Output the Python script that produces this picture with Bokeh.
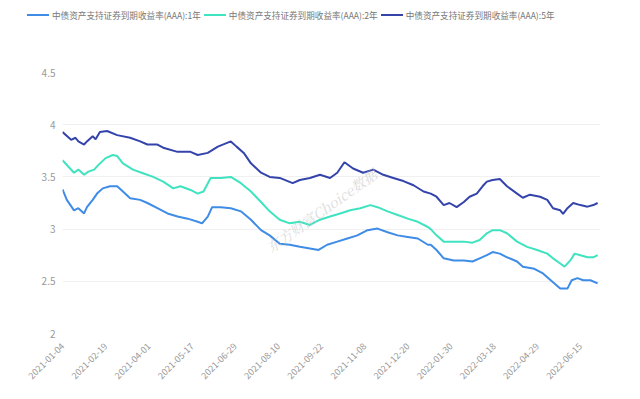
from math import pi
from bokeh.plotting import figure
from bokeh.layouts import column
from bokeh.models import Range1d, Label, FixedTicker, Div
from bokeh.embed import file_html
from bokeh.resources import INLINE

# ---- data (trading-day index, yield %) ----
tick_idx = [0, 30, 60, 90, 120, 150, 180, 210, 240, 270, 300, 330, 360]
tick_labels = ["2021-01-04", "2021-02-19", "2021-04-01", "2021-05-17", "2021-06-29",
               "2021-08-10", "2021-09-22", "2021-11-08", "2021-12-20", "2022-01-30",
               "2022-03-18", "2022-04-29", "2022-06-15"]

names = ["中债资产支持证券到期收益率(AAA):1年",
         "中债资产支持证券到期收益率(AAA):2年",
         "中债资产支持证券到期收益率(AAA):5年"]

x_1y = [0, 3, 8, 11, 15, 17, 21, 24, 28, 33, 38, 42, 47, 54, 59, 66, 73, 80, 87, 94, 97,
        101, 104, 110, 117, 124, 131, 138, 144, 151, 158, 165, 172, 178, 184, 191, 198,
        205, 212, 219, 226, 233, 240, 247, 254, 256, 260, 265, 272, 279, 285, 290, 295,
        299, 304, 309, 316, 320, 328, 334, 341, 346, 351, 354, 358, 362, 367, 372]
y_1y = [3.38, 3.28, 3.18, 3.20, 3.15, 3.21, 3.28, 3.34, 3.39, 3.41, 3.41, 3.36, 3.295,
        3.28, 3.25, 3.20, 3.15, 3.12, 3.10, 3.07, 3.055, 3.12, 3.21, 3.21, 3.20, 3.17,
        3.09, 2.99, 2.94, 2.86, 2.85, 2.83, 2.815, 2.80, 2.85, 2.88, 2.91, 2.94, 2.99,
        3.005, 2.97, 2.94, 2.925, 2.91, 2.85, 2.85, 2.80, 2.72, 2.70, 2.70, 2.69, 2.72,
        2.75, 2.78, 2.765, 2.73, 2.69, 2.64, 2.62, 2.575, 2.49, 2.43, 2.43, 2.51, 2.53,
        2.51, 2.51, 2.48]

x_2y = [0, 4, 8, 11, 15, 18, 22, 25, 30, 35, 38, 42, 49, 56, 63, 70, 77, 82, 89, 94, 98,
        103, 110, 117, 124, 131, 138, 144, 151, 158, 165, 172, 179, 186, 193, 200, 207,
        214, 219, 226, 233, 240, 247, 254, 256, 260, 265, 272, 279, 285, 290, 295, 299,
        304, 309, 316, 323, 330, 337, 341, 346, 349, 353, 356, 360, 365, 369, 372]
y_2y = [3.66, 3.60, 3.54, 3.57, 3.52, 3.55, 3.57, 3.615, 3.68, 3.71, 3.70, 3.63, 3.57,
        3.535, 3.50, 3.455, 3.39, 3.41, 3.375, 3.34, 3.36, 3.49, 3.49, 3.50, 3.44, 3.36,
        3.26, 3.17, 3.09, 3.055, 3.07, 3.04, 3.09, 3.12, 3.15, 3.18, 3.20, 3.23, 3.21,
        3.17, 3.135, 3.10, 3.07, 3.02, 3.00, 2.94, 2.88, 2.88, 2.88, 2.87, 2.895, 2.96,
        2.99, 2.99, 2.96, 2.88, 2.83, 2.80, 2.765, 2.72, 2.67, 2.64, 2.70, 2.765, 2.75,
        2.73, 2.73, 2.75]

x_5y = [0, 6, 9, 11, 15, 17, 21, 23, 26, 31, 38, 47, 54, 59, 66, 70, 80, 89, 94, 101,
        108, 117, 121, 126, 131, 138, 144, 151, 160, 165, 172, 179, 186, 191, 196, 202,
        209, 216, 223, 230, 237, 244, 251, 256, 260, 265, 269, 274, 279, 283, 288, 292,
        295, 299, 304, 309, 316, 320, 325, 332, 337, 341, 346, 348, 351, 355, 360, 365,
        369, 372]
y_5y = [3.93, 3.855, 3.875, 3.84, 3.81, 3.84, 3.89, 3.86, 3.93, 3.94, 3.90, 3.875, 3.84,
        3.81, 3.81, 3.78, 3.74, 3.74, 3.71, 3.73, 3.79, 3.84, 3.79, 3.73, 3.63, 3.54,
        3.50, 3.49, 3.44, 3.47, 3.49, 3.52, 3.49, 3.54, 3.64, 3.58, 3.54, 3.57, 3.52,
        3.49, 3.46, 3.42, 3.36, 3.34, 3.31, 3.23, 3.25, 3.21, 3.26, 3.31, 3.34, 3.41,
        3.455, 3.47, 3.48, 3.41, 3.34, 3.30, 3.33, 3.31, 3.28, 3.20, 3.18, 3.145, 3.20,
        3.25, 3.23, 3.215, 3.23, 3.25]

colors = ["#3f8ce6", "#3fe3bf", "#3444ab"]
FONT = "Noto Sans CJK SC"
W = 632

# ---- main chart ----
p = figure(width=W, height=364, output_backend="svg", toolbar_location=None,
           x_range=Range1d(0, 374), y_range=Range1d(2, 4.5),
           min_border_left=62, min_border_right=32, min_border_top=46,
           min_border_bottom=57)
p.outline_line_color = None
p.background_fill_color = "white"
p.border_fill_color = "white"

p.line(x_1y, y_1y, line_color=colors[0], line_width=2)
p.line(x_2y, y_2y, line_color=colors[1], line_width=2)
p.line(x_5y, y_5y, line_color=colors[2], line_width=2)

p.xgrid.grid_line_color = None
p.ygrid.grid_line_color = "#f0f0f0"
p.ygrid.grid_line_width = 1

p.yaxis.ticker = FixedTicker(ticks=[2, 2.5, 3, 3.5, 4, 4.5])
p.yaxis.axis_line_color = None
p.yaxis.major_tick_line_color = None
p.yaxis.minor_tick_line_color = None
p.yaxis.major_tick_out = 0
p.yaxis.minor_tick_out = 0
p.yaxis.major_label_text_color = "#999999"
p.yaxis.major_label_text_font = FONT
p.yaxis.major_label_text_font_size = "10px"
p.yaxis.major_label_standoff = 7

p.xaxis.ticker = FixedTicker(ticks=tick_idx)
p.xaxis.major_label_overrides = {i: s for i, s in zip(tick_idx, tick_labels)}
p.xaxis.major_label_orientation = pi / 4
p.xaxis.axis_line_color = None
p.xaxis.major_tick_line_color = None
p.xaxis.minor_tick_line_color = None
p.xaxis.major_tick_out = 0
p.xaxis.minor_tick_out = 0
p.xaxis.major_label_text_color = "#999999"
p.xaxis.major_label_text_font = FONT
p.xaxis.major_label_text_font_size = "9px"
p.xaxis.major_label_standoff = 11

wm = Label(x=180, y=3.18, text="东方财富Choice数据", text_font="Noto Serif CJK SC",
           text_font_size="14px", text_font_style="italic", text_color="#c4c4c4",
           text_alpha=0.6, angle=0.62, text_align="center", text_baseline="middle")
p.add_layout(wm)

# ---- legend strip (HTML) ----
items = []
for name, c in zip(names, colors):
    items.append(
        f'<span style="display:inline-block;width:22px;height:0;border-top:2px solid {c};'
        f'margin-right:3px;vertical-align:middle"></span>'
        f'<span style="margin-right:3px;vertical-align:middle">{name}</span>')
html = ('<div style="height:26px;line-height:26px;padding-left:27px;white-space:nowrap;'
        f'font-family:\'{FONT}\';font-size:8.6px;color:#777777">' + "".join(items) + '</div>')
leg = Div(text=html, width=W, height=26, margin=0)

layout = column(leg, p, spacing=0)
open("out.html", "w").write(file_html(layout, INLINE))
